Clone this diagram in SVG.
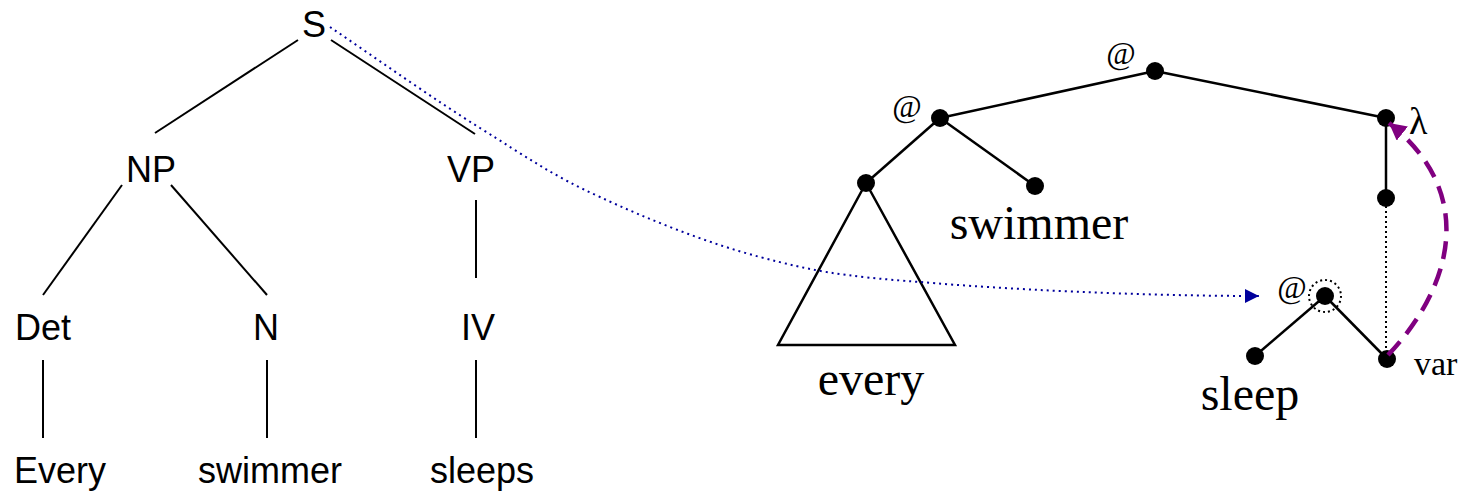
<svg xmlns="http://www.w3.org/2000/svg" width="1463" height="493" viewBox="0 0 1463 493">
<style>
.sans{font-family:"Liberation Sans",Arial,sans-serif;font-size:36px;fill:#000;text-anchor:middle}
.serif{font-family:"Liberation Serif","Times New Roman",serif;fill:#000}
.big{font-size:48px;text-anchor:middle}
.at{font-size:32px;text-anchor:middle}
.edge{stroke:#000;stroke-width:2;fill:none}
.redge{stroke:#000;stroke-width:2.5;fill:none}
.dot{fill:#000}
</style>
<defs>
<marker id="blueArrow" markerUnits="userSpaceOnUse" markerWidth="16" markerHeight="16" refX="14" refY="7" orient="auto">
<path d="M0,0 L14,7 L0,14 Z" fill="#00009c"/>
</marker>
<marker id="purpleArrow" markerUnits="userSpaceOnUse" markerWidth="20" markerHeight="20" refX="17" refY="9" orient="auto">
<path d="M0,0 L17,9 L0,18 Z" fill="#800080"/>
</marker>
</defs>
<rect width="1463" height="493" fill="#fff"/>

<!-- Left syntax tree -->
<g id="S"><text class="sans" x="314" y="37">S</text></g>
<g id="NP"><text class="sans" x="151" y="182">NP</text></g>
<g id="VP"><text class="sans" x="471" y="182">VP</text></g>
<g id="Det"><text class="sans" x="43" y="340">Det</text></g>
<g id="N"><text class="sans" x="266" y="340">N</text></g>
<g id="IV"><text class="sans" x="478" y="340">IV</text></g>
<g id="Every"><text class="sans" x="60" y="483">Every</text></g>
<g id="swimmerL"><text class="sans" x="270" y="483">swimmer</text></g>
<g id="sleeps"><text class="sans" x="482" y="483">sleeps</text></g>

<!-- Right semantic tree -->
<g id="appTop"><circle class="dot" cx="1155" cy="71" r="9"/><text class="serif at" x="1121" y="64">@</text></g>
<g id="appLeft"><circle class="dot" cx="940" cy="118" r="9"/><text class="serif at" x="907" y="117">@</text></g>
<g id="lambda"><circle class="dot" cx="1386" cy="118" r="9"/><text class="serif" x="1409" y="134" font-size="38">λ</text></g>
<g id="everyNode"><circle class="dot" cx="866" cy="183" r="9"/><path class="redge" d="M866,183 L778,345 L955,345 Z"/><text class="serif big" x="871" y="395">every</text></g>
<g id="swimmerNode"><circle class="dot" cx="1035" cy="186" r="9"/><text class="serif big" x="1039" y="239">swimmer</text></g>
<g id="bodyNode"><circle class="dot" cx="1386" cy="198" r="9"/></g>
<g id="appInner"><circle class="dot" cx="1325" cy="296" r="9"/><circle cx="1325" cy="296" r="16" fill="none" stroke="#000" stroke-width="2" stroke-dasharray="2 3"/><text class="serif at" x="1292" y="298">@</text></g>
<g id="sleepNode"><circle class="dot" cx="1255" cy="356" r="9"/><text class="serif big" x="1250" y="410">sleep</text></g>
<g id="varNode"><circle class="dot" cx="1387" cy="359" r="9"/><text class="serif" x="1414" y="375" font-size="34">var</text></g>

<!-- Connectors -->
<g id="connectors">
<line class="edge" x1="298" y1="40" x2="155" y2="133"/>
<line class="edge" x1="331" y1="40" x2="475" y2="134"/>
<line class="edge" x1="122" y1="185" x2="43" y2="295"/>
<line class="edge" x1="171" y1="185" x2="267" y2="295"/>
<line class="edge" x1="476" y1="200" x2="476" y2="278"/>
<line class="edge" x1="43" y1="360" x2="43" y2="438"/>
<line class="edge" x1="267" y1="360" x2="267" y2="438"/>
<line class="edge" x1="476" y1="360" x2="476" y2="438"/>

<line class="redge" x1="1155" y1="71" x2="940" y2="118"/>
<line class="redge" x1="1155" y1="71" x2="1386" y2="118"/>
<line class="redge" x1="940" y1="118" x2="866" y2="183"/>
<line class="redge" x1="940" y1="118" x2="1035" y2="186"/>
<line class="redge" x1="1386" y1="118" x2="1386" y2="198"/>
<line x1="1386" y1="206" x2="1386" y2="352" stroke="#000" stroke-width="2" stroke-dasharray="2 3"/>
<line class="redge" x1="1325" y1="296" x2="1255" y2="356"/>
<line class="redge" x1="1325" y1="296" x2="1387" y2="359"/>

<path d="M330,27 C380,61 435,100 480,128 C525,156 553,176 600,197 C647,219 707,243 760,257 C813,271 839,276 920,282 C1001,289 1137,296 1259,296" fill="none" stroke="#00009c" stroke-width="2" stroke-dasharray="2 4" marker-end="url(#blueArrow)"/>

<path d="M1388,355 C1450,290 1480,195 1389,123" fill="none" stroke="#800080" stroke-width="4.5" stroke-dasharray="18 10" marker-end="url(#purpleArrow)"/>
</g>
</svg>
